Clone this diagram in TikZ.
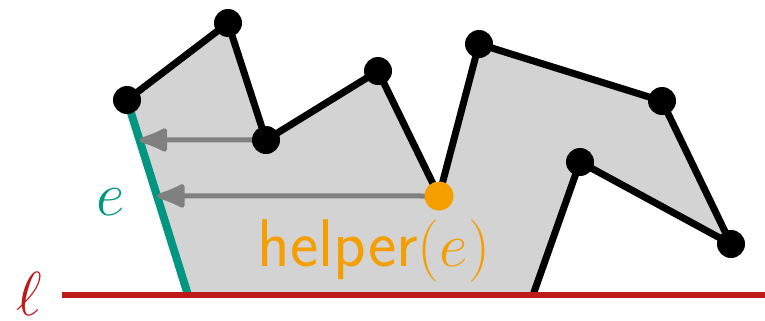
\documentclass[tikz,border=0pt]{standalone}
\usepackage{tikz}
\usetikzlibrary{arrows.meta,calc}
\definecolor{Lfill}{HTML}{D3D3D3}
\definecolor{Ledge}{HTML}{009682}
\definecolor{Lline}{HTML}{BE1A1A}
\definecolor{Lhelp}{HTML}{F59E00}
\definecolor{Lray}{HTML}{808080}

\begin{document}
\begin{tikzpicture}[
  x=0.4pt, y=-0.4pt, >=Latex,
  vert/.style  ={circle, fill=black, inner sep=0pt, minimum size=11.2pt},
  hvert/.style ={circle, fill=Lhelp, inner sep=0pt, minimum size=11.6pt},
  ray/.style   ={Lray, line width=2pt, -{Latex[length=14pt,width=11pt,round]}},
  lab/.style   ={inner sep=0pt, anchor=base},
]
\useasboundingbox (0,0) rectangle (765,320);

% ── polygon corners ─────────────────────────────────────────────────
\coordinate (b0) at (188,295);
\coordinate (p1) at (127,100);
\coordinate (p2) at (228,23);
\coordinate (p3) at (266,140);
\coordinate (p4) at (378,71);
\coordinate (h)  at (439,196);
\coordinate (p6) at (479,44);
\coordinate (p7) at (662,101);
\coordinate (p8) at (731,244);
\coordinate (p9) at (580,162);
\coordinate (b1) at (533,295);

% ── region above the line ───────────────────────────────────────────
\fill[Lfill] (b0) -- (p1) -- (p2) -- (p3) -- (p4) -- (h) -- (p6) -- (p7)
  -- (p8) -- (p9) -- (b1) -- cycle;
\draw[black, line width=2.8pt, line join=round]
  (p1) -- (p2) -- (p3) -- (p4) -- (h) -- (p6) -- (p7) -- (p8) -- (p9) -- (b1);

% ── the edge e ──────────────────────────────────────────────────────
\draw[Ledge, line width=3.2pt] (p1) -- (b0)
  coordinate[pos=0.205] (e1) coordinate[pos=0.492] (e2);

% ── line l ──────────────────────────────────────────────────────────
\coordinate (l0) at (62,295);
\coordinate (l1) at (765,295);
\draw[Lline, line width=2.6pt] (l0) -- (l1);

% ── rays to e ───────────────────────────────────────────────────────
\draw[ray] (p3) -- (e1);
\draw[ray] (h) -- (e2);

% ── vertices ────────────────────────────────────────────────────────
\foreach \p in {p1,p2,p3,p4,p6,p7,p8,p9}
  \node[vert] at (\p) {};
\node[hvert] (hv) at (h) {};

% ── labels ──────────────────────────────────────────────────────────
\node[lab, text=Lhelp, font=\fontsize{27}{31}\selectfont] (hlab) at (374,266)
  {\textsf{helper}$(e)$};
\node[lab, text=Ledge, font=\fontsize{29}{33}\selectfont] (elab) at (111,215) {$e$};
\node[lab, text=Lline, font=\fontsize{29}{33}\selectfont] (llab) at (29,315) {$\ell$};

\end{tikzpicture}
\end{document}
